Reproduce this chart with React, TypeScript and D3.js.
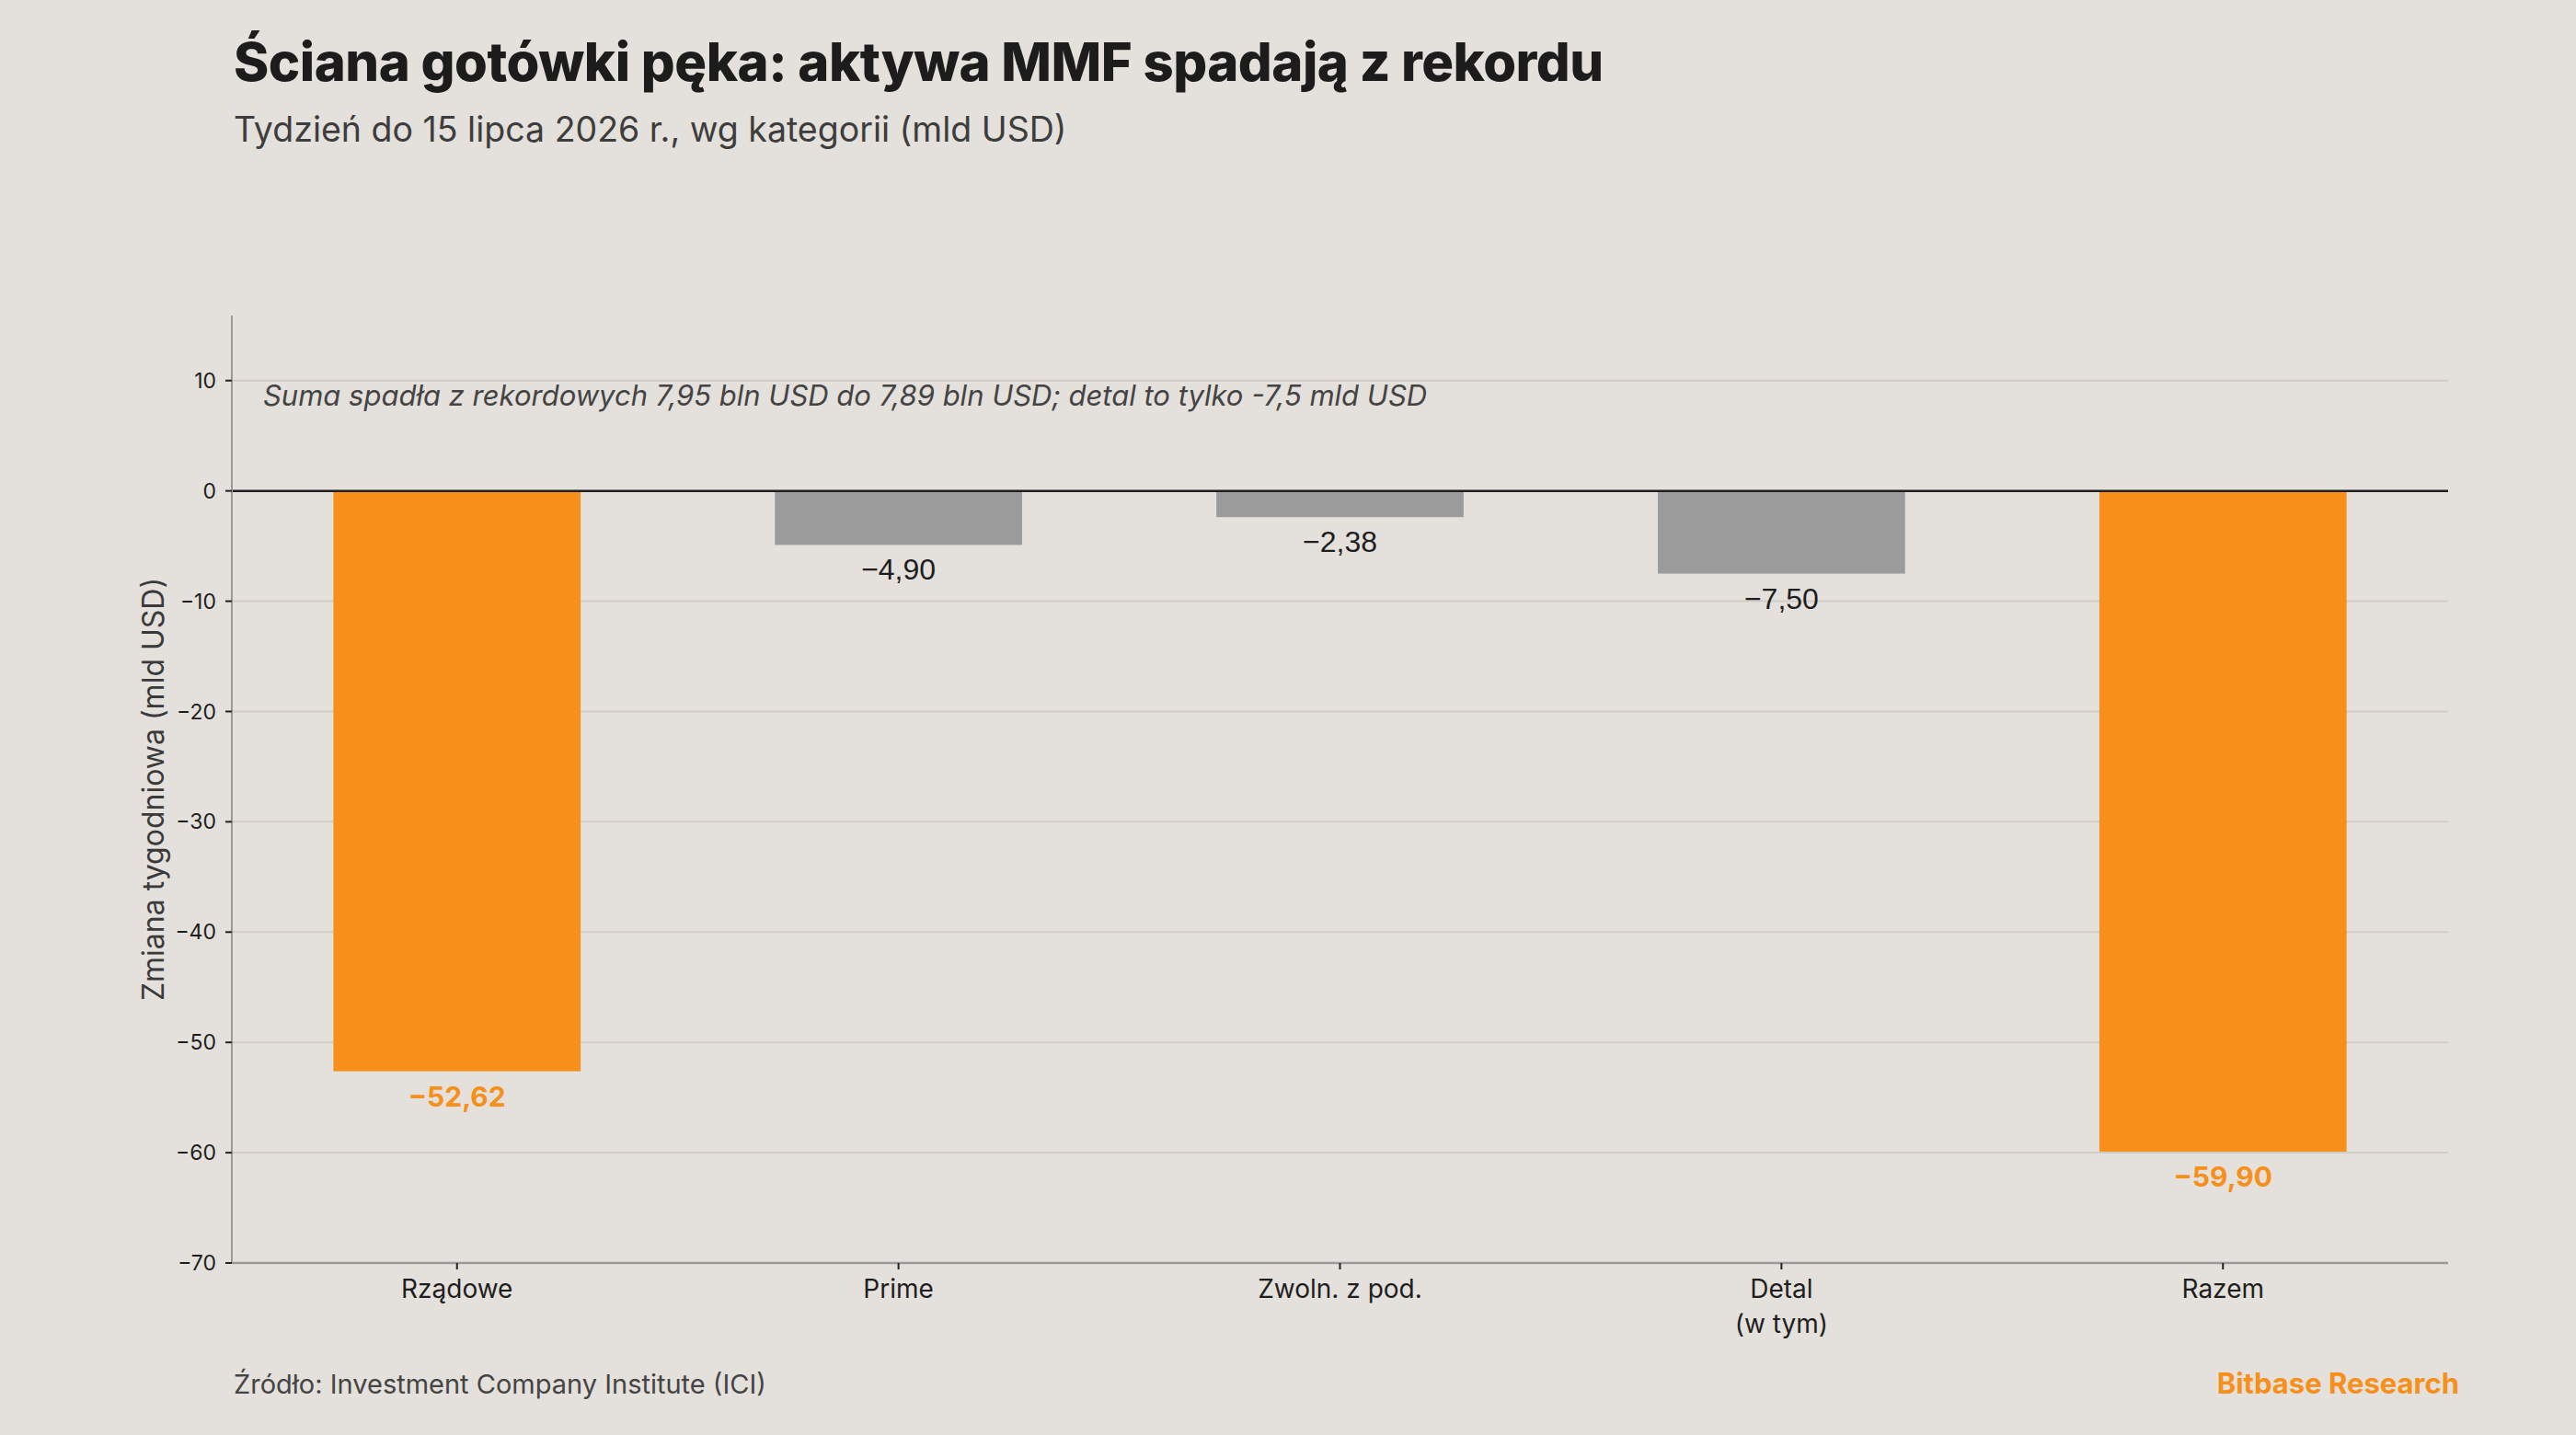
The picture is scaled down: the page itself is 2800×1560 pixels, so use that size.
import * as d3 from 'd3';

const categories = ['Rządowe', 'Prime', 'Zwoln. z pod.', 'Detal\n(w tym)', 'Razem'];
const values = [-52.62, -4.9, -2.38, -7.5, -59.9];
const highlight = [true, false, false, false, true];
const yTicks = [10, 0, -10, -20, -30, -40, -50, -60, -70];

const W = 2800;
const H = 1560;
const BG = '#e4e0db';
const ORANGE = '#f6901a';
const GREY = '#9b9b9b';
const FONT = 'Inter, "Noto Sans", sans-serif';
const NARROW = '"Liberation Sans Narrow", "Liberation Sans", Arial, sans-serif';

const fmt = (v: number) => v.toFixed(2).replace('.', ',').replace('-', '−');

export default function App(): JSX.Element {
  const left = 252;
  const right = 2661;
  const top = 343;
  const bottom = 1373;

  const x = d3
    .scaleBand<string>()
    .domain(categories)
    .range([left, right])
    .paddingInner(0.44)
    .paddingOuter(0.23);
  const y = d3.scaleLinear().domain([-70, 15.9]).range([bottom, top]);

  return (
    <svg
      xmlns="http://www.w3.org/2000/svg"
      width={W}
      height={H}
      style={{ position: 'absolute', left: 0, top: 0, background: BG }}
    >
      <rect width={W} height={H} fill={BG} />

      <text x={254} y={88} fontFamily={FONT} fontWeight={800} fontSize={58} fill="#1c1c1c" letterSpacing={-0.5}>
        Ściana gotówki pęka: aktywa MMF spadają z rekordu
      </text>
      <text x={254} y={154} fontFamily={FONT} fontSize={37.5} fill="#3d3d3d">
        Tydzień do 15 lipca 2026 r., wg kategorii (mld USD)
      </text>

      {/* grid */}
      {yTicks
        .filter((t) => t !== 0 && t !== -70)
        .map((t) => (
          <line key={t} x1={left} x2={right} y1={y(t)} y2={y(t)} stroke="#d1ccc6" strokeWidth={2} />
        ))}

      {/* bars */}
      {categories.map((c, i) => {
        const v = values[i];
        return (
          <rect
            key={c}
            x={x(c)}
            width={x.bandwidth()}
            y={y(Math.max(0, v))}
            height={Math.abs(y(v) - y(0))}
            fill={highlight[i] ? ORANGE : GREY}
          />
        );
      })}

      {/* zero line */}
      <line x1={left} x2={right} y1={y(0)} y2={y(0)} stroke="#1f1f1f" strokeWidth={2.5} />

      {/* value labels */}
      {categories.map((c, i) => {
        const cx = (x(c) ?? 0) + x.bandwidth() / 2;
        const yy = y(values[i]) + 38;
        return highlight[i] ? (
          <text key={c} x={cx} y={yy} textAnchor="middle" fontFamily={FONT} fontWeight={700} fontSize={30} fill={ORANGE}>
            {fmt(values[i])}
          </text>
        ) : (
          <text key={c} x={cx} y={yy} textAnchor="middle" fontFamily={NARROW} fontSize={32} fill="#1e1e1e">
            {fmt(values[i])}
          </text>
        );
      })}

      {/* axes */}
      <line x1={left} x2={left} y1={top} y2={bottom} stroke="#9a9a9a" strokeWidth={2} />
      <line x1={left} x2={right} y1={bottom} y2={bottom} stroke="#9a9a9a" strokeWidth={2.5} />
      {yTicks.map((t) => (
        <g key={t} transform={`translate(${left},${y(t)})`}>
          <line x1={-7} x2={0} stroke="#222" strokeWidth={2} />
          <text x={-17} dy="0.35em" textAnchor="end" fontFamily={FONT} fontSize={23} fill="#1e1e1e">
            {t < 0 ? `−${Math.abs(t)}` : t}
          </text>
        </g>
      ))}
      {categories.map((c) => {
        const cx = (x(c) ?? 0) + x.bandwidth() / 2;
        return (
          <g key={c} transform={`translate(${cx},${bottom})`}>
            <line y1={0} y2={7} stroke="#222" strokeWidth={2} />
            {c.split('\n').map((line, j) => (
              <text key={j} y={38 + j * 38} textAnchor="middle" fontFamily={FONT} fontSize={28} fill="#1e1e1e">
                {line}
              </text>
            ))}
          </g>
        );
      })}

      <text
        transform={`translate(178,${(top + bottom) / 2}) rotate(-90)`}
        textAnchor="middle"
        fontFamily={FONT}
        fontSize={32}
        fill="#3a3a3a"
      >
        Zmiana tygodniowa (mld USD)
      </text>

      <text x={286} y={441} fontFamily={FONT} fontStyle="italic" fontSize={31} fill="#444">
        Suma spadła z rekordowych 7,95 bln USD do 7,89 bln USD; detal to tylko -7,5 mld USD
      </text>

      <text x={254} y={1515} fontFamily={FONT} fontSize={29} fill="#444">
        Źródło: Investment Company Institute (ICI)
      </text>
      <text x={2673} y={1515} textAnchor="end" fontFamily={FONT} fontWeight={700} fontSize={31} fill={ORANGE}>
        Bitbase Research
      </text>
    </svg>
  );
}
